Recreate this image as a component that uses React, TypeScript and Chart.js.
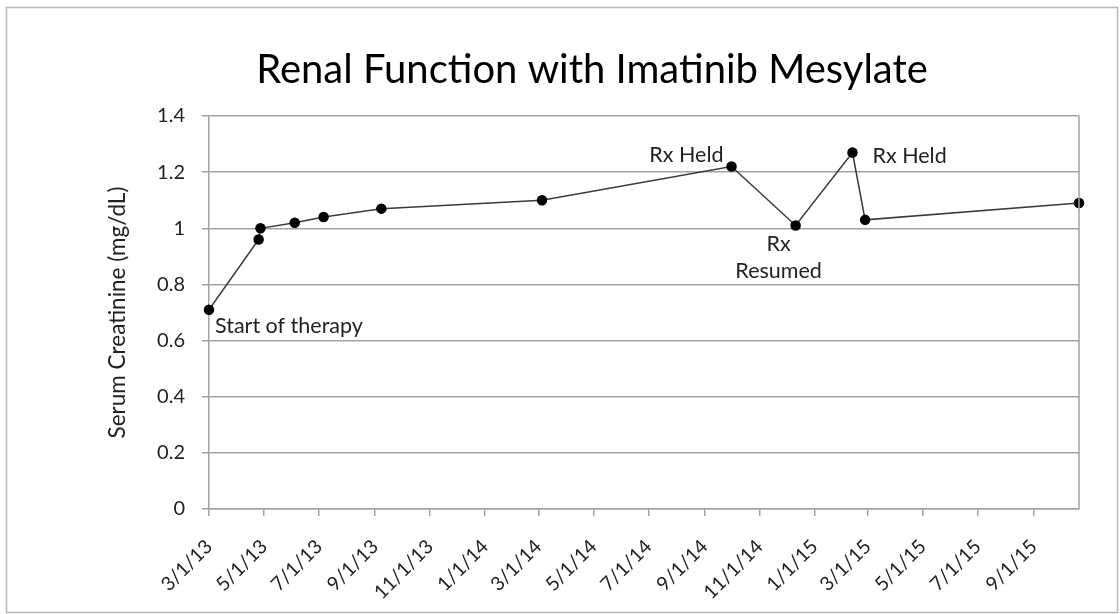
import { useEffect, useRef } from "react";
import { Chart, registerables } from "chart.js";

Chart.register(...registerables);

// ---- data ----
const chartTitle = "Renal Function with Imatinib Mesylate";
const yAxisTitle = "Serum Creatinine (mg/dL)";
const sampleDates = [
  "2013-03-01", "2013-04-25", "2013-04-27", "2013-06-04", "2013-07-06", "2013-09-08",
  "2014-03-05", "2014-10-01", "2014-12-11", "2015-02-12", "2015-02-26", "2015-10-21",
];
const creatinine = [0.71, 0.96, 1.0, 1.02, 1.04, 1.07, 1.1, 1.22, 1.01, 1.27, 1.03, 1.09];
const tickDates = [
  "2013-03-01", "2013-05-01", "2013-07-01", "2013-09-01", "2013-11-01", "2014-01-01",
  "2014-03-01", "2014-05-01", "2014-07-01", "2014-09-01", "2014-11-01", "2015-01-01",
  "2015-03-01", "2015-05-01", "2015-07-01", "2015-09-01",
];
const tickLabels = [
  "3/1/13", "5/1/13", "7/1/13", "9/1/13", "11/1/13", "1/1/14", "3/1/14", "5/1/14",
  "7/1/14", "9/1/14", "11/1/14", "1/1/15", "3/1/15", "5/1/15", "7/1/15", "9/1/15",
];
const annotationTexts = ["Start of therapy", "Rx Held", "Rx", "Resumed", "Rx Held"];
const annotationPoints = [0, 7, 8, 8, 9];

// label placement relative to the annotated point (pixels, alphabetic baseline)
const annotationPlacement: { dx: number; dy: number; align: CanvasTextAlign }[] = [
  { dx: 6, dy: 23, align: "left" },
  { dx: -8, dy: -5, align: "right" },
  { dx: -17, dy: 26, align: "center" },
  { dx: -17, dy: 53, align: "center" },
  { dx: 20, dy: 11, align: "left" },
];

const toDay = (s: string) => {
  const [y, m, d] = s.split("-").map(Number);
  return Date.UTC(y, m - 1, d) / 86400000;
};

const FONT = "Lato, 'Open Sans', sans-serif";
const GRID = "#a3a3a3";

export default function App() {
  const ref = useRef<HTMLCanvasElement | null>(null);

  useEffect(() => {
    const canvas = ref.current;
    if (!canvas) return;

    const points = sampleDates.map((d, i) => ({ x: toDay(d), y: creatinine[i] }));

    const decor = {
      id: "decor",
      beforeDraw(chart: any) {
        const { ctx, width, height } = chart;
        ctx.save();
        ctx.fillStyle = "#ffffff";
        ctx.fillRect(0, 0, width, height);
        ctx.strokeStyle = "#b8b8b8";
        ctx.lineWidth = 1.5;
        ctx.strokeRect(6.5, 7.5, 1111, 605);
        ctx.restore();
      },
      afterDraw(chart: any) {
        const { ctx, chartArea } = chart;
        ctx.save();
        // right border of plot area
        ctx.strokeStyle = GRID;
        ctx.lineWidth = 1.5;
        ctx.beginPath();
        ctx.moveTo(chartArea.right, chartArea.top);
        ctx.lineTo(chartArea.right, chartArea.bottom);
        ctx.stroke();
        // title
        ctx.fillStyle = "#000";
        ctx.font = `40px ${FONT}`;
        ctx.textAlign = "center";
        ctx.textBaseline = "alphabetic";
        ctx.fillText(chartTitle, 592, 83);
        // annotations
        const meta = chart.getDatasetMeta(0);
        ctx.font = `21.5px ${FONT}`;
        ctx.fillStyle = "#222";
        annotationTexts.forEach((t, i) => {
          const el = meta.data[annotationPoints[i]];
          const p = annotationPlacement[i];
          ctx.textAlign = p.align;
          ctx.fillText(t, el.x + p.dx, el.y + p.dy);
        });
        ctx.restore();
      },
    };

    const chart = new Chart(canvas, {
      type: "scatter",
      data: {
        datasets: [
          {
            data: points,
            showLine: true,
            borderColor: "#3a3a3a",
            borderWidth: 1.5,
            pointBackgroundColor: "#000",
            pointBorderColor: "#000",
            pointRadius: 4.5,
            pointHoverRadius: 4.5,
            clip: false as any,
          },
        ],
      },
      options: {
        animation: false,
        responsive: false,
        events: [],
        layout: { padding: { left: 100, right: 41, top: 116, bottom: 0 } },
        plugins: {
          legend: { display: false },
          title: { display: false },
          tooltip: { enabled: false },
        },
        scales: {
          x: {
            type: "linear",
            min: toDay(sampleDates[0]),
            max: toDay(sampleDates[sampleDates.length - 1]),
            afterBuildTicks: (axis: any) => {
              axis.ticks = tickDates.map((d) => ({ value: toDay(d) }));
            },
            afterFit: (axis: any) => {
              axis.height = 614 - 509;
            },
            ticks: {
              autoSkip: false,
              maxRotation: 45,
              minRotation: 45,
              padding: 19,
              color: "#222",
              font: { family: FONT, size: 19.5 },
              callback: (_v: any, i: number) => tickLabels[i],
            },
            grid: {
              drawOnChartArea: false,
              drawTicks: true,
              tickLength: 7,
              color: GRID,
              lineWidth: 1.5,
            },
            border: { display: true, color: GRID, width: 1.5 },
          },
          y: {
            min: 0,
            max: 1.4,
            afterFit: (axis: any) => {
              axis.width = 209 - 100;
            },
            ticks: {
              stepSize: 0.2,
              padding: 17,
              color: "#222",
              font: { family: FONT, size: 20 },
              callback: (v: any) => String(parseFloat(Number(v).toFixed(1))),
            },
            grid: { color: GRID, lineWidth: 1.5, tickLength: 7 },
            border: { display: true, color: GRID, width: 1.5 },
            title: {
              display: true,
              text: yAxisTitle,
              color: "#222",
              font: { family: FONT, size: 22.5 },
              padding: { top: 4, bottom: 0 },
            },
          },
        },
      },
      plugins: [decor],
    });

    return () => chart.destroy();
  }, []);

  return (
    <div style={{ position: "fixed", left: 0, top: 0, width: 1120, height: 614 }}>
      <canvas ref={ref} width={1120} height={614} />
    </div>
  );
}
